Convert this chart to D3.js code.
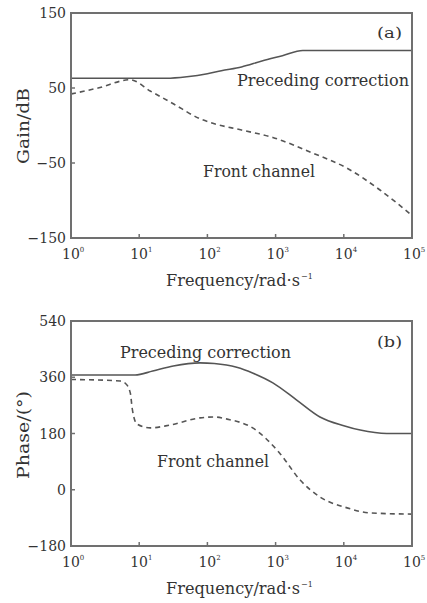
<!DOCTYPE html>
<html><head><meta charset="utf-8">
<script src="https://cdn.jsdelivr.net/npm/d3@7/dist/d3.min.js"></script>
<style>
html,body{margin:0;padding:0;background:#fff;}
text{font-family:"DejaVu Serif","Liberation Serif",serif;fill:#333;}
</style></head>
<body>
<svg id="c" width="427" height="603"></svg>
<script>
// ---- data ----
const xTicks = [1, 10, 100, 1000, 10000, 100000];
const xTickExp = ["0", "1", "2", "3", "4", "5"];
const gainTicks = [150, 50, -50, -150];
const phaseTicks = [540, 360, 180, 0, -180];

const gainPreFreq = [1, 10, 25, 50, 100, 160, 316, 630, 1260, 2500, 100000];
const gainPreVal  = [63, 63, 63, 65, 69, 73, 78, 86, 93, 100, 100];

const gainFrontFreq = [1, 2.5, 7.4, 14.5, 31.6, 78, 120, 316, 910, 3550, 11200, 33900, 100000];
const gainFrontVal  = [42, 50, 61, 46, 29, 9, 3, -6, -16, -37, -57, -86, -120];

const phasePreFreq = [1, 8.7, 15.8, 31.6, 78, 126, 269, 468, 912, 2040, 4470, 10000, 17400, 42700, 100000];
const phasePreVal  = [367, 367, 380, 396, 406, 404, 392, 373, 342, 287, 233, 205, 191, 180, 180];

const phaseFrontFreq = [1, 5.25, 6.3, 7.4, 7.9, 9.3, 14.5, 28.2, 78, 126, 195, 468, 1150, 2290, 4470, 11200, 24000, 100000];
const phaseFrontVal  = [353, 348, 340, 310, 260, 210, 198, 207, 230, 233, 226, 197, 117, 31, -23, -58, -74, -78];

const svg = d3.select("#c");
const frameCol = "#707070", lineCol = "#555";

function panel(cfg) {
  const x = d3.scaleLog().domain([1, 100000]).range([71, 412]);
  const y = d3.scaleLinear().domain(cfg.domain).range([cfg.bottom, cfg.top]);
  const g = svg.append("g");

  g.selectAll("line.xt").data(xTicks.slice(1, -1)).enter().append("line")
    .attr("x1", d => x(d)).attr("x2", d => x(d))
    .attr("y1", cfg.bottom).attr("y2", cfg.bottom - 4)
    .attr("stroke", frameCol).attr("stroke-width", 1.5);
  g.selectAll("line.yt").data(cfg.ticks.slice(1, -1)).enter().append("line")
    .attr("x1", 71).attr("x2", 75)
    .attr("y1", d => y(d)).attr("y2", d => y(d))
    .attr("stroke", frameCol).attr("stroke-width", 1.5);

  const line = (fr, v) => d3.line().x((d, i) => x(fr[i])).y((d, i) => y(v[i])).curve(d3.curveMonotoneX)(v);
  g.append("path").attr("d", line(cfg.preF, cfg.preV)).attr("fill", "none")
    .attr("stroke", lineCol).attr("stroke-width", 1.6);
  g.append("path").attr("d", line(cfg.frF, cfg.frV)).attr("fill", "none")
    .attr("stroke", lineCol).attr("stroke-width", 1.6).attr("stroke-dasharray", "5,4");

  g.append("rect").attr("x", 71).attr("y", cfg.top).attr("width", 341).attr("height", cfg.bottom - cfg.top)
    .attr("fill", "none").attr("stroke", frameCol).attr("stroke-width", 2);

  g.selectAll("text.yl").data(cfg.ticks).enter().append("text")
    .attr("x", 66).attr("y", d => y(d) + 5)
    .attr("text-anchor", "end").attr("font-size", 14)
    .text(d => d < 0 ? "\u2212" + Math.abs(d) : d);

  const xl = g.selectAll("text.xl").data(xTicks).enter().append("text")
    .attr("x", d => x(d) - 9).attr("y", cfg.bottom + 21)
    .attr("font-size", 14);
  xl.append("tspan").text("10");
  xl.append("tspan").attr("dy", -7).attr("font-size", 7).text((d, i) => xTickExp[i]);

  g.append("text").attr("x", 166).attr("y", cfg.bottom + 48).attr("font-size", 16)
    .attr("textLength", 134).attr("lengthAdjust", "spacingAndGlyphs")
    .text("Frequency/rad\u00b7s");
  g.append("text").attr("x", 301).attr("y", cfg.bottom + 41).attr("font-size", 8)
    .text("\u22121");

  g.append("text").attr("transform", `translate(29,${cfg.ycenter}) rotate(-90)`)
    .attr("text-anchor", "middle").attr("font-size", 17)
    .attr("textLength", cfg.ytLen).attr("lengthAdjust", "spacingAndGlyphs")
    .text(cfg.ytitle);

  cfg.labels.forEach(l => {
    g.append("text").attr("x", l.x).attr("y", l.y).attr("font-size", l.fs || 17)
      .attr("textLength", l.len).attr("lengthAdjust", "spacingAndGlyphs").text(l.t);
  });
}

panel({
  domain: [-150, 150], top: 13, bottom: 238, ticks: gainTicks,
  preF: gainPreFreq, preV: gainPreVal, frF: gainFrontFreq, frV: gainFrontVal,
  ytitle: "Gain/dB", ycenter: 126, ytLen: 76,
  labels: [
    {t: "(a)", x: 377, y: 38, len: 25, fs: 14},
    {t: "Preceding correction", x: 237, y: 86, len: 172},
    {t: "Front channel", x: 203, y: 177, len: 112}
  ]
});
panel({
  domain: [-180, 540], top: 321, bottom: 546, ticks: phaseTicks,
  preF: phasePreFreq, preV: phasePreVal, frF: phaseFrontFreq, frV: phaseFrontVal,
  ytitle: "Phase/(\u00b0)", ycenter: 435, ytLen: 88,
  labels: [
    {t: "(b)", x: 377, y: 347, len: 25, fs: 14},
    {t: "Preceding correction", x: 120, y: 358, len: 171},
    {t: "Front channel", x: 157, y: 467, len: 112}
  ]
});
</script>
</body></html>
